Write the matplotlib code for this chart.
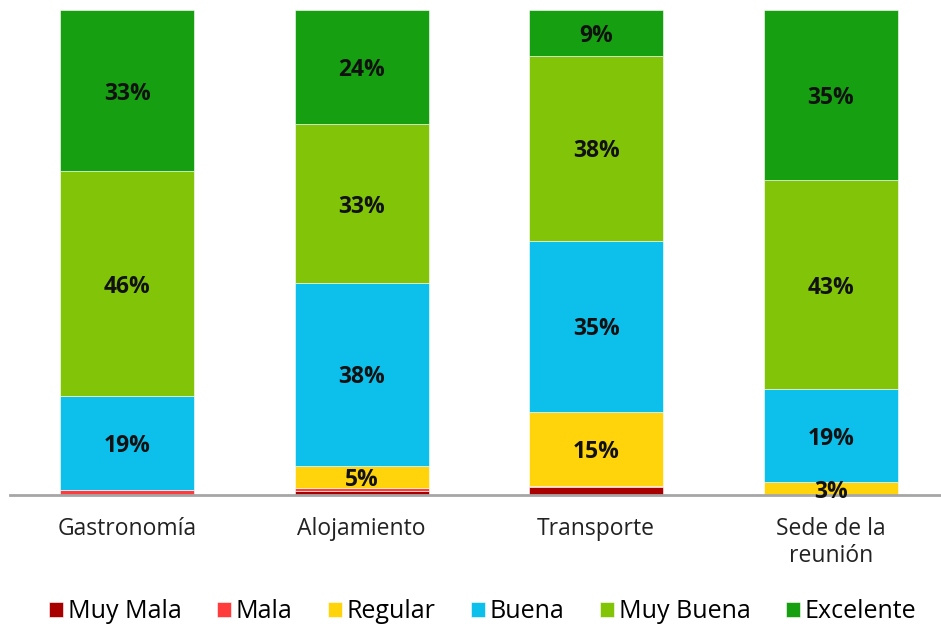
import matplotlib
matplotlib.use("Agg")
import matplotlib.pyplot as plt
import numpy as np

categories = ["Gastronomía", "Alojamiento", "Transporte", "Sede de la\nreunión"]
series_names = ["Muy Mala", "Mala", "Regular", "Buena", "Muy Buena", "Excelente"]
muy_mala = [0.0, 0.9, 1.6, 0.0]
mala = [1.0, 0.5, 0.3, 0.0]
regular = [0.0, 4.6, 15.3, 2.6]
buena = [19.4, 37.7, 35.2, 19.3]
muy_buena = [46.4, 32.8, 38.2, 43.0]
excelente = [33.2, 23.5, 9.4, 35.1]
colors = ["#A80000", "#FF3B3B", "#FFD40A", "#0DBFEB", "#82C407", "#169F10"]
show_label = [False, False, True, True, True, True]

series = [muy_mala, mala, regular, buena, muy_buena, excelente]
FONT = "Open Sans"

fig = plt.figure(figsize=(9.41, 6.26), dpi=100)
ax = fig.add_axes([10/941, 131/626, 931/941, 485/626])

x = np.arange(len(categories))
bottom = np.zeros(len(categories))
for name, vals, col, lab in zip(series_names, series, colors, show_label):
    vals = np.array(vals)
    ax.bar(x, vals, bottom=bottom, width=0.57, color=col, label=name,
           edgecolor="white", linewidth=0.4)
    if lab:
        for xi, b, v in zip(x, bottom, vals):
            if v > 0:
                ax.annotate(f"{v:.0f}%", (xi, b + v / 2), xytext=(0, -3),
                            textcoords="offset pixels", ha="center", va="center",
                            fontsize=16.5, fontweight="bold", family=FONT, color="#111111")
    bottom += vals

ax.set_xlim(-0.5, 3.5 - 7/235)
ax.set_ylim(0, 100)
ax.set_yticks([])
for s in ["top", "right", "left"]:
    ax.spines[s].set_visible(False)
ax.spines["bottom"].set_color("#A6A6A6")
ax.spines["bottom"].set_linewidth(2)
ax.set_xticks(x)
ax.set_xticklabels(categories, fontsize=16.5, family=FONT, color="#222222", linespacing=1.15)
ax.tick_params(axis="x", length=0, pad=16)

fig.legend(loc="center", bbox_to_anchor=(0.513, 1 - 612/626), ncol=6,
           frameon=False, handlelength=0.55, handleheight=0.55,
           handletextpad=0.2, columnspacing=1.42, prop={"family": FONT, "size": 18})

fig.savefig("out.png", dpi=100)
